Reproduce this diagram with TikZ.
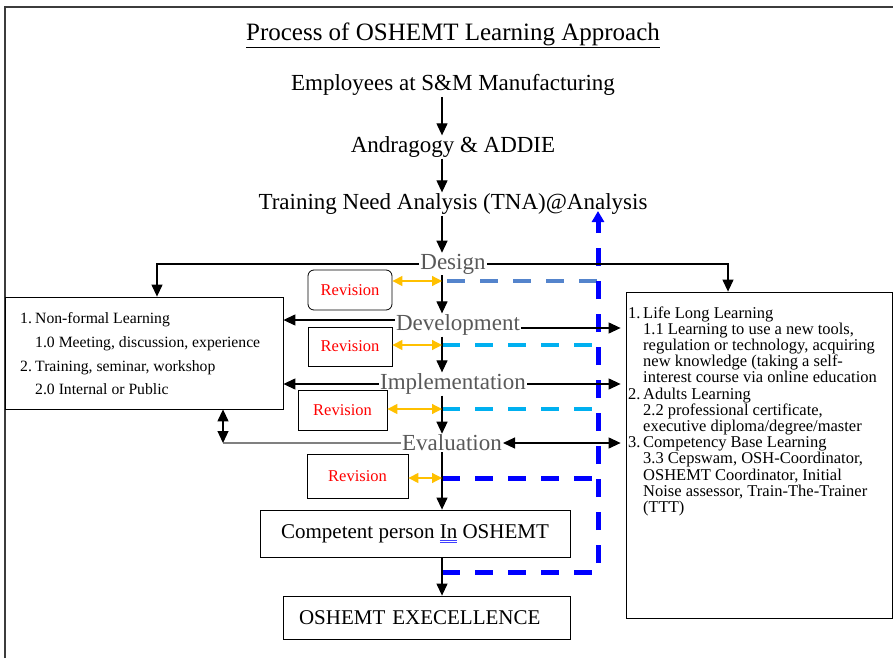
\documentclass[tikz,border=0pt]{standalone}
\usepackage{fontspec}
\setmainfont{Liberation Serif}
\usetikzlibrary{arrows.meta}
\definecolor{steelb}{RGB}{84,132,204}
\definecolor{lightb}{RGB}{0,176,240}
\definecolor{pureb}{RGB}{0,0,255}
\definecolor{orng}{RGB}{255,192,0}
\definecolor{graytxt}{RGB}{89,89,89}
\definecolor{framec}{RGB}{60,60,60}
\newcommand\dblline[1]{{\setbox0\hbox{#1}\rlap{\color{blue!75!white}\rule[-2.6pt]{\wd0}{0.5pt}}\rlap{\color{blue!75!white}\rule[-4.2pt]{\wd0}{0.5pt}}\box0}}
\begin{document}
\begin{tikzpicture}[x=1pt,y=-1pt,
  arr/.style={-{Triangle[length=12pt,width=11pt]},line width=1.2pt,draw=black},
  dblarr/.style={{Triangle[length=12pt,width=11pt]}-{Triangle[length=12pt,width=11pt]},line width=1.2pt,draw=black},
  oarr/.style={{Triangle[length=10pt,width=10pt]}-{Triangle[length=10pt,width=10pt]},line width=1.2pt,draw=orng},
  main/.style={inner sep=1pt,font=\fontsize{23}{27}\selectfont},
  phase/.style={main,text=graytxt},
  revbox/.style={draw,line width=0.8pt,inner sep=0pt,text=red,font=\fontsize{16.5}{19}\selectfont},
  listbox/.style={draw,line width=0.8pt,inner sep=0pt},
  endbox/.style={draw,line width=0.8pt,inner sep=0pt,font=\fontsize{21}{25}\selectfont},
  rtxt/.style={anchor=base west,inner sep=0pt,font=\fontsize{16.5}{19}\selectfont},
  ltxt/.style={anchor=base west,inner sep=0pt,font=\fontsize{15.7}{19}\selectfont},
  dsh/.style={line width=4pt,dash pattern=on 18pt off 15pt}]
\useasboundingbox (0,0) rectangle (893,658);
\fill[white] (0,0) rectangle (893,658);
% outer frame
\draw[framec,line width=1.5pt] (5,658) -- (5,7) -- (893,7);

% helper coordinates
\coordinate (ax) at (442,0);
\coordinate (lx) at (157,0);
\coordinate (rx) at (728,0);
\coordinate (ex) at (223,0);
\coordinate (vx) at (598,0);
\coordinate (dx) at (447,0);
\coordinate (b0) at (442,572);
\coordinate (b1) at (598,572);
\coordinate (btail) at (598,226);
\coordinate (btop) at (598,211);

% texts
\node[inner sep=0pt,font=\fontsize{25}{30}\selectfont] (title) at (453,35) {\underline{Process of OSHEMT Learning Approach}};
\node[main] (emp) at (453,85) {Employees at S\&M Manufacturing};
\node[main] (and) at (453,147) {Andragogy \& ADDIE};
\node[main] (tna) at (453,204) {Training Need Analysis (TNA)@Analysis};
\node[phase] (des) at (453,264) {Design};
\node[phase] (dev) at (458,325) {Development};
\node[phase] (imp) at (453,384) {Implementation};
\node[phase] (eva) at (452,443) {Evaluation};

% boxes
\node[listbox,minimum width=278pt,minimum height=112pt] (lbox) at (144,353) {};
\node[listbox,minimum width=266pt,minimum height=326pt] (rbox) at (759,455) {};
\node[revbox,rounded corners=6pt,minimum width=84pt,minimum height=40pt] (rev1) at (350,290) {Revision};
\node[revbox,minimum width=84pt,minimum height=39pt] (rev2) at (350,346.5) {Revision};
\node[revbox,minimum width=89pt,minimum height=40pt] (rev3) at (342.5,410) {Revision};
\node[revbox,minimum width=101pt,minimum height=44pt] (rev4) at (357.5,476) {Revision};
\node[endbox,minimum width=310pt,minimum height=47pt] (comp) at (415,533.5) {Competent person \dblline{In} OSHEMT};
\node[endbox,minimum width=287pt,minimum height=43pt,text width=255pt,inner xsep=16pt,align=left] (exc) at (426.5,617.5) {OSHEMT EXECELLENCE};

% left box text
\node[ltxt] (l1) at (20,323) {\makebox[15pt][l]{1.}Non-formal Learning};
\node[ltxt] (l2) at (35,347) {1.0 Meeting, discussion, experience};
\node[ltxt] (l3) at (20,371) {\makebox[15pt][l]{2.}Training, seminar, workshop};
\node[ltxt] (l4) at (35,394) {2.0 Internal or Public};

% right box text
\node[rtxt] (r1) at (628,318) {\makebox[15pt][l]{1.}Life Long Learning};
\node[rtxt] (r2) at (643,334.2) {1.1 Learning to use a new tools,};
\node[rtxt] (r3) at (643,350.4) {regulation or technology, acquiring};
\node[rtxt] (r4) at (643,366.6) {new knowledge (taking a self-};
\node[rtxt] (r5) at (643,382.8) {interest course via online education};
\node[rtxt] (r6) at (628,399) {\makebox[15pt][l]{2.}Adults Learning};
\node[rtxt] (r7) at (643,415.2) {2.2 professional certificate,};
\node[rtxt] (r8) at (643,431.4) {executive diploma/degree/master};
\node[rtxt] (r9) at (628,447.6) {\makebox[15pt][l]{3.}Competency Base Learning};
\node[rtxt] (r10) at (643,463.8) {3.3 Cepswam, OSH-Coordinator,};
\node[rtxt] (r11) at (643,480) {OSHEMT Coordinator, Initial};
\node[rtxt] (r12) at (643,496.2) {Noise assessor, Train-The-Trainer};
\node[rtxt] (r13) at (643,512.4) {(TTT)};

% dashed feedback lines
\draw[dsh,steelb] ([yshift=9pt]rev1.east -| dx) -- ([yshift=9pt]rev1.east -| vx);
\draw[dsh,lightb] ([yshift=1.5pt]rev2.east -| ax) -- ([yshift=1.5pt]rev2.east -| vx);
\draw[dsh,lightb] ([yshift=1pt]rev3.east -| ax) -- ([yshift=1pt]rev3.east -| vx);
\draw[dsh,pureb,line width=5pt] ([yshift=-2pt]rev4.east -| ax) -- ([yshift=-2pt]rev4.east -| vx);
\draw[dsh,pureb,line width=5pt] (b0) -- (b1) -- (btail);
\draw[pureb,line width=5pt,-{Triangle[length=11pt,width=12pt]}] (btail) -- (btop);

% main flow
\draw[arr] (emp.south -| ax) -- (and.north -| ax);
\draw[arr] (and.south -| ax) -- (tna.north -| ax);
\draw[arr] (tna.south -| ax) -- (des.north -| ax);
\draw[arr] (des.south -| ax) -- (dev.north -| ax);
\draw[arr] (dev.south -| ax) -- (imp.north -| ax);
\draw[arr] (imp.south -| ax) -- (eva.north -| ax);
\draw[arr] (eva.south -| ax) -- (comp.north -| ax);
\draw[arr] (comp.south -| ax) -- (exc.north -| ax);

% side connectors
\draw[arr] (des.west) -| (lx |- lbox.north);
\draw[arr] (des.east) -| (rx |- rbox.north);
\draw[arr] ([yshift=5pt]dev.west) -- ([yshift=5pt]dev.west -| lbox.east);
\draw[arr,shorten >=5pt] ([yshift=-3pt]dev.east) -- ([yshift=-3pt]dev.east -| rbox.west);
\draw[arr] (imp.west) -- (imp.west -| lbox.east);
\draw[arr,shorten >=5pt] (imp.east) -- (imp.east -| rbox.west);
\draw[dblarr,shorten >=5pt] (eva.east) -- (eva.east -| rbox.west);
\draw[line width=1.2pt,draw=gray] (eva.west) -- (eva.west -| ex);
\draw[dblarr] (ex |- lbox.south) -- (eva.west -| ex);

% revision arrows
\draw[oarr] ([yshift=9pt]rev1.east) -- ([yshift=9pt]rev1.east -| ax);
\draw[oarr] ([yshift=1.5pt]rev2.east) -- ([yshift=1.5pt]rev2.east -| ax);
\draw[oarr] ([yshift=1pt]rev3.east) -- ([yshift=1pt]rev3.east -| ax);
\draw[oarr] ([yshift=-2pt]rev4.east) -- ([yshift=-2pt]rev4.east -| ax);
\end{tikzpicture}
\end{document}
